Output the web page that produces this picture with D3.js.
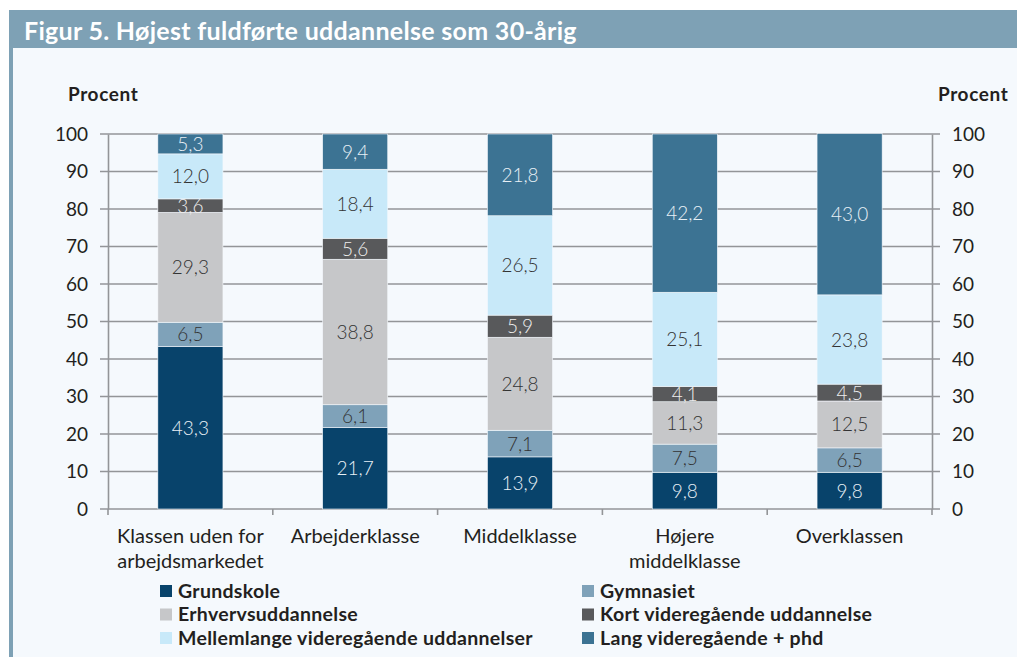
<!DOCTYPE html>
<html>
<head>
<meta charset="utf-8">
<script src="https://cdn.jsdelivr.net/npm/d3@7"></script>
<style>
  body { margin: 0; background: #fff; }
  svg { display: block; font-family: Lato, "Open Sans", sans-serif; }
</style>
</head>
<body>
<svg width="1017" height="657"></svg>
<script>
// data
var categories = [["Klassen uden for", "arbejdsmarkedet"], ["Arbejderklasse"], ["Middelklasse"], ["Højere", "middelklasse"], ["Overklassen"]];
var seriesNames = ["Grundskole", "Gymnasiet", "Erhvervsuddannelse", "Kort videregående uddannelse", "Mellemlange videregående uddannelser", "Lang videregående + phd"];
var grundskole = [43.3, 21.7, 13.9, 9.8, 9.8];
var gymnasiet = [6.5, 6.1, 7.1, 7.5, 6.5];
var erhverv = [29.3, 38.8, 24.8, 11.3, 12.5];
var kort = [3.6, 5.6, 5.9, 4.1, 4.5];
var mellemlange = [12.0, 18.4, 26.5, 25.1, 23.8];
var lang = [5.3, 9.4, 21.8, 42.2, 43.0];
var yTicks = [0, 10, 20, 30, 40, 50, 60, 70, 80, 90, 100];

var colors = ["#08436b", "#7fa2b9", "#c6c7c9", "#58595b", "#c8e9f9", "#3c7393"];
var labelColors = ["#e8f0f6", "#333333", "#333333", "#eeeeee", "#333333", "#e8f0f6"];

var svg = d3.select("svg");

// title bar and panel
svg.append("rect").attr("x", 9).attr("y", 10).attr("width", 1008).attr("height", 647).attr("fill", "#7ea1b5");
svg.append("rect").attr("x", 13).attr("y", 48).attr("width", 1004).attr("height", 609).attr("fill", "#f5f9fd");
svg.append("text")
    .attr("x", 24).attr("y", 40)
    .attr("fill", "#fff")
    .style("font-size", "25px").style("font-weight", "bold").style("letter-spacing", "0.3px")
    .text("Figur 5. Højest fuldførte uddannelse som 30-årig");

var rows = seriesNames.map(function(name, i) { return {name: name}; });
var table = categories.map(function(c, j) {
  return {cat: j, Grundskole: grundskole[j], Gymnasiet: gymnasiet[j], Erhvervsuddannelse: erhverv[j],
    "Kort videregående uddannelse": kort[j], "Mellemlange videregående uddannelser": mellemlange[j],
    "Lang videregående + phd": lang[j]};
});

var x = d3.scaleBand().domain(d3.range(categories.length)).range([108, 932]).paddingInner(0.605).paddingOuter(0.3025);
var xEdge = d3.scaleBand().domain(d3.range(categories.length)).range([108, 932]);
var y = d3.scaleLinear().domain([0, 100]).range([509, 134]);

var axisColor = "#939598";

// gridlines
svg.append("g").selectAll("line").data(yTicks).enter().append("line")
    .attr("x1", 100).attr("x2", 940)
    .attr("y1", function(d) { return y(d); }).attr("y2", function(d) { return y(d); })
    .attr("stroke", axisColor).attr("stroke-width", 1.6);

// bars
var stacked = d3.stack().keys(seriesNames)(table);
var layer = svg.append("g").selectAll("g").data(stacked).enter().append("g")
    .attr("fill", function(d, i) { return colors[i]; });

layer.selectAll("rect").data(function(d) { return d; }).enter().append("rect")
    .attr("x", function(d) { return x(d.data.cat); })
    .attr("width", x.bandwidth())
    .attr("y", function(d) { return y(d[1]); })
    .attr("height", function(d) { return y(d[0]) - y(d[1]); })
    .attr("stroke", "#f5f9fd").attr("stroke-width", 0.6);

layer.each(function(s, i) {
  d3.select(this).selectAll("text").data(s).enter().append("text")
      .attr("x", function(d) { return x(d.data.cat) + x.bandwidth() / 2; })
      .attr("y", function(d) { return (y(d[0]) + y(d[1])) / 2 + 7; })
      .attr("text-anchor", "middle")
      .attr("fill", labelColors[i])
      .style("font-size", "19px").style("font-weight", 300)
      .text(function(d) { return d3.format(".1f")(d[1] - d[0]).replace(".", ","); });
});

// axes
var left = svg.append("g").attr("transform", "translate(108,0)")
    .call(d3.axisLeft(y).tickValues(yTicks).tickSize(0).tickPadding(20));
var right = svg.append("g").attr("transform", "translate(932,0)")
    .call(d3.axisRight(y).tickValues(yTicks).tickSize(0).tickPadding(20));
[left, right].forEach(function(a) {
  a.select(".domain").attr("stroke", axisColor).attr("stroke-width", 1.6);
  a.selectAll("text").style("font-size", "19px").style("font-family", "Lato, sans-serif").attr("fill", "#231f20");
});

var bottom = svg.append("g").attr("transform", "translate(0,509)")
    .call(d3.axisBottom(xEdge).tickValues([]).tickSizeOuter(0));
bottom.select(".domain").remove();
bottom.selectAll("line.edge").data(d3.range(categories.length + 1)).enter().append("line")
    .attr("class", "edge")
    .attr("x1", function(d) { return d < categories.length ? xEdge(d) : xEdge.range()[1]; })
    .attr("x2", function(d) { return d < categories.length ? xEdge(d) : xEdge.range()[1]; })
    .attr("y1", 0).attr("y2", 6)
    .attr("stroke", axisColor).attr("stroke-width", 1.6);

// category labels
var catLabel = svg.append("g").selectAll("text").data(categories).enter().append("text")
    .attr("x", function(d, i) { return xEdge(i) + xEdge.bandwidth() / 2; })
    .attr("y", 543)
    .attr("text-anchor", "middle")
    .attr("fill", "#231f20")
    .style("font-size", "20px");
catLabel.selectAll("tspan").data(function(d) { return d; }).enter().append("tspan")
    .attr("x", function() { return d3.select(this.parentNode).attr("x"); })
    .attr("dy", function(d, i) { return i ? 25 : 0; })
    .text(function(d) { return d; });

// axis titles
svg.append("text").attr("x", 68).attr("y", 101).attr("fill", "#231f20")
    .style("font-size", "19px").style("font-weight", "bold").style("letter-spacing", "0.6px").text("Procent");
svg.append("text").attr("x", 938).attr("y", 101).attr("fill", "#231f20")
    .style("font-size", "19px").style("font-weight", "bold").style("letter-spacing", "0.6px").text("Procent");

// legend
var legend = svg.append("g").selectAll("g").data(rows).enter().append("g")
    .attr("transform", function(d, i) { return "translate(" + (i % 2 ? 582 : 160) + "," + (585 + Math.floor(i / 2) * 23.5) + ")"; });
legend.append("rect").attr("width", 12).attr("height", 12)
    .attr("fill", function(d, i) { return colors[i]; });
legend.append("text").attr("x", 18).attr("y", 12.5)
    .attr("fill", "#231f20")
    .style("font-size", "19.5px").style("font-weight", "bold").style("letter-spacing", "0.3px")
    .text(function(d) { return d.name; });
</script>
</body>
</html>
